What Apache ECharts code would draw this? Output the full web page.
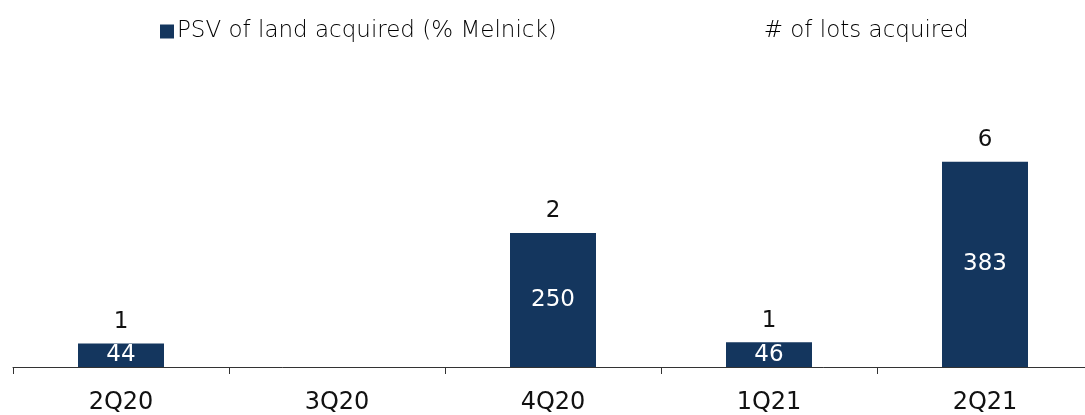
<!DOCTYPE html>
<html><head><meta charset="utf-8">
<script src="https://cdn.jsdelivr.net/npm/echarts@6/dist/echarts.min.js"></script>
<style>html,body{margin:0;padding:0;background:#fff;overflow:hidden}#c{width:1093px;height:415px}</style>
</head><body><div id="c"></div>
<script>
var categories = ['2Q20', '3Q20', '4Q20', '1Q21', '2Q21'];
var psv = [44, null, 250, 46, 383];
var lots = [1, null, 2, 1, 6];
var seriesNames = ['PSV of land acquired (% Melnick)', '# of lots acquired'];

var chart = echarts.init(document.getElementById('c'));
var FONT = 'DejaVu Sans';
chart.setOption({
  animation: false,
  textStyle: { fontFamily: FONT },
  legend: {
    left: 155, top: 15,
    itemGap: 190,
    itemWidth: 14, itemHeight: 14,
    textStyle: { fontSize: 23, color: '#000', fontWeight: 200, fontFamily: FONT, padding: [0, 0, 0, -2] },
    data: [
      { name: seriesNames[0], icon: 'rect' },
      { name: seriesNames[1], icon: 'none' }
    ],
    selectedMode: false
  },
  grid: { left: 13, right: 0, top: 99, bottom: 47, containLabel: false },
  xAxis: {
    type: 'category', data: categories,
    axisLine: { lineStyle: { color: '#333', width: 1 } },
    axisTick: { show: true, length: 7, lineStyle: { color: '#333' } },
    axisLabel: { color: '#111', fontSize: 24, fontWeight: 400, margin: 24, fontFamily: FONT }
  },
  yAxis: { type: 'value', min: 0, max: 500, show: false, splitLine: { show: false } },
  series: [
    {
      name: seriesNames[1], type: 'bar', data: psv, barWidth: 86, barGap: '-100%',
      itemStyle: { color: 'rgba(0,0,0,0)' }, z: 1,
      label: { show: true, position: 'top', distance: 10, color: '#111', fontSize: 23, fontWeight: 400, fontFamily: FONT,
        formatter: function (p) { return lots[p.dataIndex] == null ? '' : String(lots[p.dataIndex]); } }
    },
    {
      name: seriesNames[0], type: 'bar', data: psv, barWidth: 86, barGap: '-100%',
      itemStyle: { color: '#14365E' }, z: 2,
      label: { show: true, position: 'inside', color: '#fff', fontSize: 23, fontWeight: 400, fontFamily: FONT,
        formatter: function (p) { return p.value == null ? '' : String(p.value); } }
    }
  ]
});
</script></body></html>
